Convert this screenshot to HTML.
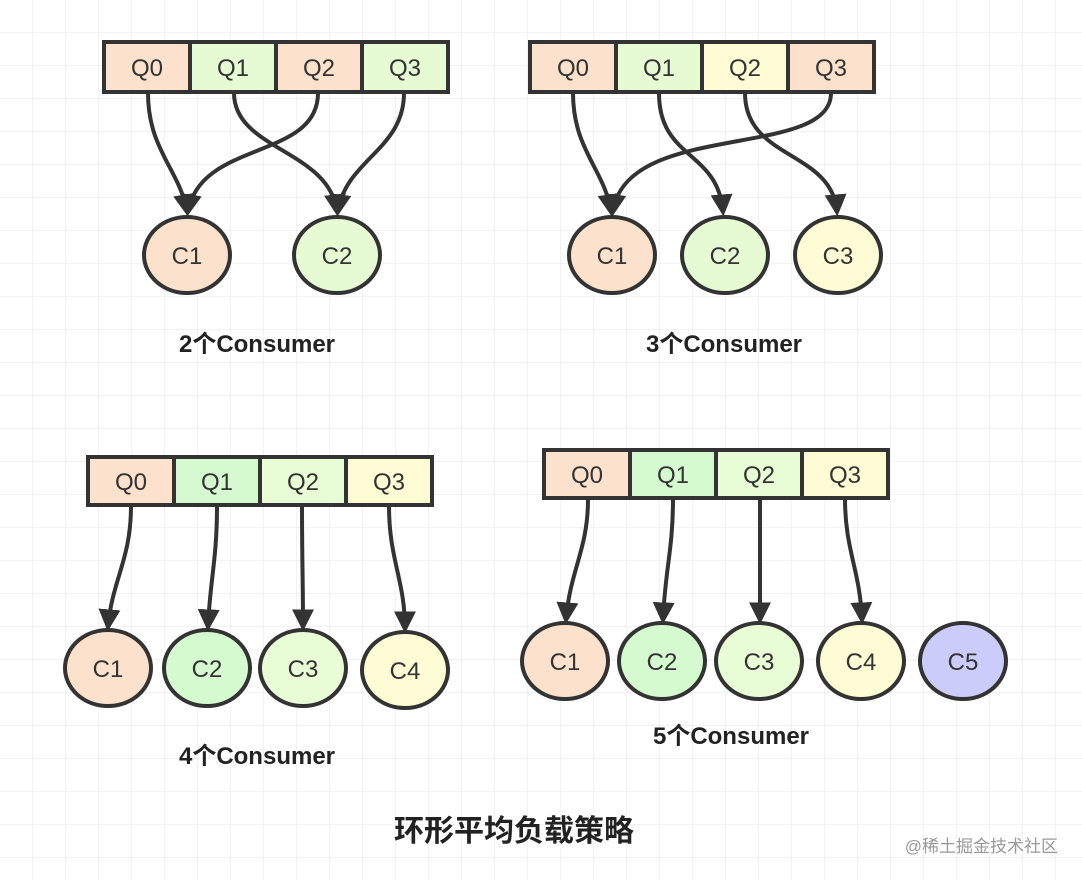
<!DOCTYPE html>
<html><head><meta charset="utf-8"><style>
html,body{margin:0;padding:0;background:#fff;}
svg{display:block}
text{font-family:"Liberation Sans","Noto Sans CJK SC",sans-serif;}
</style></head><body>
<svg width="1082" height="880" viewBox="0 0 1082 880" xmlns="http://www.w3.org/2000/svg">
<defs>
<pattern id="g" width="33" height="33" patternUnits="userSpaceOnUse" x="0" y="0">
<path d="M33 0V33M0 33H33" stroke="#e6e6e6" stroke-width="1" fill="none"/>
</pattern>
<marker id="a" viewBox="0 0 10 10" refX="8" refY="5" markerWidth="5.5" markerHeight="5.5" orient="auto" markerUnits="strokeWidth">
<path d="M0 0L10 5L0 10z" fill="#333"/>
</marker>
</defs>
<rect width="1082" height="880" fill="#fff"/>
<rect width="1082" height="880" fill="url(#g)"/>
<g stroke="#333" stroke-width="4" fill="#333">
<rect x="104" y="42" width="86" height="50" fill="#fce2cc"/>
<rect x="190" y="42" width="86" height="50" fill="#e6fbd4"/>
<rect x="276" y="42" width="86" height="50" fill="#fce2cc"/>
<rect x="362" y="42" width="86" height="50" fill="#e6fbd4"/>
<ellipse cx="187" cy="255" rx="43" ry="38" fill="#fce2cc"/>
<ellipse cx="337" cy="255" rx="43" ry="38" fill="#e6fbd4"/>
<rect x="530" y="42" width="86" height="50" fill="#fce2cc"/>
<rect x="616" y="42" width="86" height="50" fill="#e6fbd4"/>
<rect x="702" y="42" width="86" height="50" fill="#fdfcd4"/>
<rect x="788" y="42" width="86" height="50" fill="#fce2cc"/>
<ellipse cx="612" cy="255" rx="43" ry="38" fill="#fce2cc"/>
<ellipse cx="725" cy="255" rx="43" ry="38" fill="#e6fbd4"/>
<ellipse cx="838" cy="255" rx="43" ry="38" fill="#fdfcd4"/>
<rect x="88" y="457" width="86" height="48" fill="#fce2cc"/>
<rect x="174" y="457" width="86" height="48" fill="#d6fad0"/>
<rect x="260" y="457" width="86" height="48" fill="#e8fcd6"/>
<rect x="346" y="457" width="86" height="48" fill="#fdfcd4"/>
<ellipse cx="108" cy="668" rx="43" ry="38" fill="#fce2cc"/>
<ellipse cx="207" cy="668" rx="43" ry="38" fill="#d6fad0"/>
<ellipse cx="303" cy="668" rx="43" ry="38" fill="#e8fcd6"/>
<ellipse cx="405" cy="670" rx="43" ry="38" fill="#fdfcd4"/>
<rect x="544" y="450" width="86" height="48" fill="#fce2cc"/>
<rect x="630" y="450" width="86" height="48" fill="#d6fad0"/>
<rect x="716" y="450" width="86" height="48" fill="#e8fcd6"/>
<rect x="802" y="450" width="86" height="48" fill="#fdfcd4"/>
<ellipse cx="565" cy="661" rx="43" ry="38" fill="#fce2cc"/>
<ellipse cx="662" cy="661" rx="43" ry="38" fill="#d6fad0"/>
<ellipse cx="759" cy="661" rx="43" ry="38" fill="#e8fcd6"/>
<ellipse cx="861" cy="661" rx="43" ry="38" fill="#fdfcd4"/>
<ellipse cx="963" cy="661" rx="43" ry="38" fill="#ccccfa"/>
</g>
<g stroke="#333" stroke-width="4" fill="none" marker-end="url(#a)">
<path d="M148 93C148 150 180 170 187 212"/>
<path d="M234 93C234 150 330 150 337 212"/>
<path d="M318 93C318 160 200 140 188 212"/>
<path d="M404 93C404 150 345 160 338 212"/>
<path d="M573 93C573 150 605 170 611 212"/>
<path d="M659 93C659 160 718 150 723 212"/>
<path d="M745 93C745 160 832 150 837 212"/>
<path d="M831 93C831 160 625 120 613 212"/>
<path d="M131 506C131 560 112 580 108 627"/>
<path d="M217 506C217 560 210 580 208 627"/>
<path d="M302 506C302 560 303 580 303 627"/>
<path d="M389 506C389 560 405 580 405 629"/>
<path d="M588 499C588 550 570 570 566 620"/>
<path d="M673 499C673 550 665 570 663 620"/>
<path d="M760 499C760 550 760 570 760 620"/>
<path d="M845 499C845 550 860 570 862 620"/>
</g>
<g font-size="24" fill="#333" text-anchor="middle">
<text x="147" y="76">Q0</text><text x="233" y="76">Q1</text><text x="319" y="76">Q2</text><text x="405" y="76">Q3</text>
<text x="187" y="264">C1</text><text x="337" y="264">C2</text>
<text x="573" y="76">Q0</text><text x="659" y="76">Q1</text><text x="745" y="76">Q2</text><text x="831" y="76">Q3</text>
<text x="612" y="264">C1</text><text x="725" y="264">C2</text><text x="838" y="264">C3</text>
<text x="131" y="490">Q0</text><text x="217" y="490">Q1</text><text x="303" y="490">Q2</text><text x="389" y="490">Q3</text>
<text x="108" y="677">C1</text><text x="207" y="677">C2</text><text x="303" y="677">C3</text><text x="405" y="679">C4</text>
<text x="587" y="483">Q0</text><text x="673" y="483">Q1</text><text x="759" y="483">Q2</text><text x="845" y="483">Q3</text>
<text x="565" y="670">C1</text><text x="662" y="670">C2</text><text x="759" y="670">C3</text><text x="861" y="670">C4</text><text x="963" y="670">C5</text>
</g>
<g font-size="24" fill="#222" text-anchor="middle" font-weight="bold">
<text x="257" y="352">2个Consumer</text>
<text x="724" y="352">3个Consumer</text>
<text x="257" y="764">4个Consumer</text>
<text x="731" y="744">5个Consumer</text>
<text x="514" y="841" font-size="30">环形平均负载策略</text>
</g>
<text x="1058" y="852" font-size="17" fill="#999" text-anchor="end">@稀土掘金技术社区</text>
</svg>
</body></html>
